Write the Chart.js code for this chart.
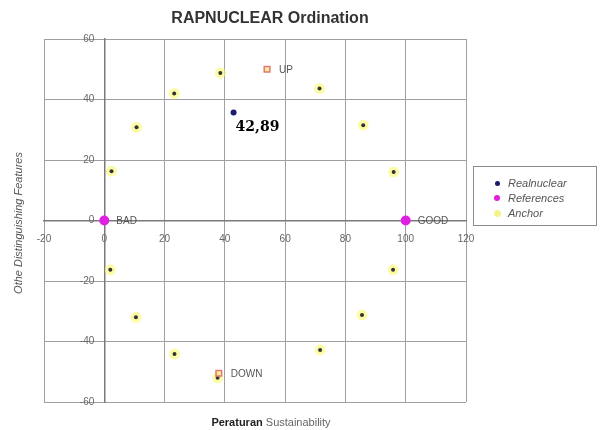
<!DOCTYPE html>
<html>
<head>
<meta charset="utf-8">
<script src="https://cdn.jsdelivr.net/npm/chart.js@4/dist/chart.umd.min.js"></script>
<style>
  html, body { margin: 0; padding: 0; background: #fff; }
  #wrap { position: relative; width: 604px; height: 430px; }
  #legend { position: absolute; left: 473px; top: 166px; width: 124px; height: 60px;
    border: 1px solid #8a8a8a; box-sizing: border-box; font-family: "Liberation Sans", Arial, sans-serif;
    font-size: 11px; font-style: italic; color: #555; }
  .row { position: absolute; left: 0; height: 14px; line-height: 14px; }
  .dot { position: absolute; border-radius: 50%; }
  .txt { position: absolute; left: 34px; white-space: nowrap; }
</style>
</head>
<body>
<div id="wrap">
  <canvas id="c" width="604" height="430"></canvas>
  <div id="legend"></div>
</div>
<script>
// ---- data ----
const chartTitle = "RAPNUCLEAR Ordination";
const xTicks = [-20, 0, 20, 40, 60, 80, 100, 120];
const yTicks = [-60, -40, -20, 0, 20, 40, 60];
const realX = [42.89];
const realY = [35.7];
const realLabel = ["42,89"];
const refX = [0, 100, 54, 38];
const refY = [0, 0, 50, -50.5];
const refLabels = ["BAD", "GOOD", "UP", "DOWN"];
const anchorX = [10.7, 23.2, 38.5, 71.4, 85.9, 2.4, 96.0, 2.0, 10.5, 23.3, 95.8, 85.5, 71.6, 37.6];
const anchorY = [30.8, 42.0, 48.8, 43.6, 31.5, 16.3, 16.0, -16.3, -32.0, -44.1, -16.3, -31.2, -42.8, -52.0];
const seriesNames = ["Realnuclear", "References", "Anchor"];

const pts = (xs, ys) => xs.map((x, i) => ({ x: x, y: ys[i] }));

// legend (HTML)
const legendColors = ["#1a1a6e", "#e020e0", "#f4f48a"];
const legendSizes = [5, 6, 7];
const lg = document.getElementById('legend');
seriesNames.forEach((n, i) => {
  const r = document.createElement('div');
  r.className = 'row';
  r.style.top = (9 + i * 15) + 'px';
  r.style.width = '100%';
  const d = document.createElement('span');
  d.className = 'dot';
  d.style.width = legendSizes[i] + 'px';
  d.style.height = legendSizes[i] + 'px';
  d.style.left = (23 - legendSizes[i] / 2) + 'px';
  d.style.top = (7 - legendSizes[i] / 2) + 'px';
  d.style.background = legendColors[i];
  const t = document.createElement('span');
  t.className = 'txt';
  t.textContent = n;
  r.appendChild(d); r.appendChild(t);
  lg.appendChild(r);
});

const FONT = '"Liberation Sans", Arial, sans-serif';
const textPlugin = {
  id: 'texts',
  afterDraw(chart) {
    const ctx = chart.ctx;
    const xs = chart.scales.x, ys = chart.scales.y;
    ctx.save();
    // title
    ctx.fillStyle = '#333';
    ctx.font = 'bold 16px ' + FONT;
    ctx.textAlign = 'center';
    ctx.textBaseline = 'middle';
    ctx.fillText(chartTitle, 270, 19);
    // y tick labels (left of the axis line at x = 0)
    ctx.font = '10px ' + FONT;
    ctx.fillStyle = '#666';
    ctx.textAlign = 'right';
    const ax = xs.getPixelForValue(0);
    yTicks.forEach(v => ctx.fillText(String(v), ax - 10, ys.getPixelForValue(v)));
    // y title
    ctx.save();
    ctx.translate(19, 223);
    ctx.rotate(-Math.PI / 2);
    ctx.textAlign = 'center';
    ctx.font = 'italic 11px ' + FONT;
    ctx.fillStyle = '#555';
    ctx.fillText('Othe Distinguishing Features', 0, 0);
    ctx.restore();
    // x title
    ctx.textAlign = 'left';
    ctx.font = 'bold 11px ' + FONT;
    const p1 = 'Peraturan ';
    const w1 = ctx.measureText(p1).width;
    ctx.font = '11px ' + FONT;
    const p2 = 'Sustainability';
    const w2 = ctx.measureText(p2).width;
    const sx = 271 - (w1 + w2) / 2;
    ctx.font = 'bold 11px ' + FONT;
    ctx.fillStyle = '#222';
    ctx.fillText(p1, sx, 423);
    ctx.font = '11px ' + FONT;
    ctx.fillStyle = '#666';
    ctx.fillText(p2, sx + w1, 423);
    // reference labels
    ctx.font = '10px ' + FONT;
    ctx.fillStyle = '#555';
    refLabels.forEach((l, i) => {
      ctx.fillText(l, xs.getPixelForValue(refX[i]) + 12, ys.getPixelForValue(refY[i]) + 1);
    });
    // real label
    ctx.font = 'bold 14px "DejaVu Serif", serif';
    ctx.fillStyle = '#000';
    ctx.fillText(realLabel[0], xs.getPixelForValue(realX[0]) + 2, ys.getPixelForValue(realY[0]) + 15);
    ctx.restore();
  }
};

new Chart(document.getElementById('c'), {
  type: 'scatter',
  data: {
    datasets: [
      { label: seriesNames[0], data: pts(realX, realY), pointRadius: 3, pointBackgroundColor: '#1a1a6e', pointBorderColor: '#1a1a6e', pointBorderWidth: 0 },
      { label: seriesNames[1], data: pts(refX, refY),
        pointStyle: ctx => ctx.dataIndex < 2 ? 'circle' : 'rect',
        pointRadius: ctx => ctx.dataIndex < 2 ? 5 : 4,
        pointBackgroundColor: ctx => ctx.dataIndex < 2 ? '#e020e0' : 'rgba(255,235,140,0.9)',
        pointBorderColor: ctx => ctx.dataIndex < 2 ? '#e020e0' : '#e07878',
        pointBorderWidth: ctx => ctx.dataIndex < 2 ? 0 : 1.5 },
      { label: 'anchorDark', data: pts(anchorX, anchorY), pointRadius: 2, pointBackgroundColor: '#333', pointBorderWidth: 0 },
      { label: seriesNames[2], data: pts(anchorX, anchorY), pointRadius: 5.5, pointBackgroundColor: 'rgba(250,250,110,0.6)', pointBorderWidth: 0 }
    ]
  },
  options: {
    responsive: false,
    animation: false,
    devicePixelRatio: 1,
    layout: { padding: { left: 44, right: 138, top: 39, bottom: 28 } },
    plugins: { legend: { display: false }, title: { display: false }, tooltip: { enabled: false } },
    scales: {
      x: {
        type: 'linear', min: -20, max: 120,
        position: { y: 0 },
        afterBuildTicks: s => { s.ticks = xTicks.map(v => ({ value: v })); },
        ticks: { color: '#666', font: { size: 10, family: FONT }, padding: 9, maxRotation: 0 },
        grid: { color: '#a0a0a0', lineWidth: 1, tickLength: 4, drawTicks: true },
        border: { display: true, color: '#7a7a7a', width: 1.5 }
      },
      y: {
        type: 'linear', min: -60, max: 60,
        position: { x: 0 },
        afterBuildTicks: s => { s.ticks = yTicks.map(v => ({ value: v })); },
        ticks: { display: false },
        grid: { color: '#a0a0a0', lineWidth: 1, tickLength: 5, drawTicks: true },
        border: { display: true, color: '#7a7a7a', width: 1.5 }
      }
    }
  },
  plugins: [textPlugin]
});
</script>
</body>
</html>
